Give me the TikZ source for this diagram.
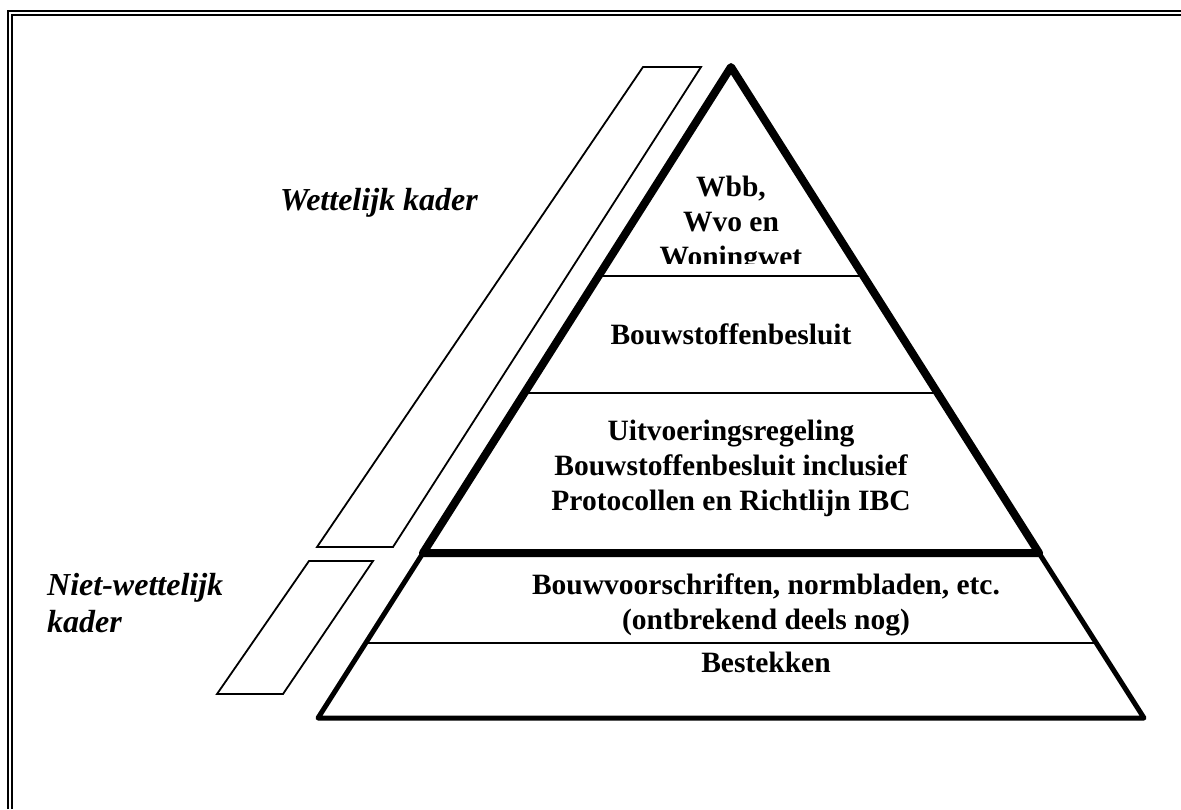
\documentclass[tikz,border=0pt]{standalone}
\usepackage{fontspec}
\setmainfont{Liberation Serif}
\usetikzlibrary{calc}

\begin{document}
\begin{tikzpicture}[x=1pt,y=-1pt,
		laag/.style={font=\fontsize{29.5}{35}\selectfont\bfseries,align=center,inner sep=0pt},
		kader/.style={font=\fontsize{32}{37}\selectfont\bfseries\itshape,inner sep=0pt}]
	\useasboundingbox (0,0) rectangle (1181,809);

	% dubbele rand
	\draw[line width=2.5] (8,809)--(8,11)--(1181,11);
	\draw[line width=2.5] (12,809)--(12,15)--(1181,15);

	\coordinate (top) at (731,67);
	\coordinate (links) at (423,553);
	\coordinate (rechts) at (1039,553);
	\coordinate (onderlinks) at (318,718);
	\coordinate (onderrechts) at (1144,718);

	% scheidslijnen
	\draw[line width=2] ($(top)!0.43!(links)$)--($(top)!0.43!(rechts)$);
	\draw[line width=2] ($(top)!0.671!(links)$)--($(top)!0.671!(rechts)$);
	\draw[line width=2] ($(links)!0.545!(onderlinks)$)--($(rechts)!0.545!(onderrechts)$);

	% piramide
	\draw[line width=5,line join=round] (links)--(onderlinks)--(onderrechts)--(rechts);
	\draw[line width=8,line join=round] (top)--(rechts)--(links)--cycle;

	% balken
	\draw[line width=1.8] (317,547)--(393,547)--(701,67)--(643,67)--cycle;
	\draw[line width=1.8] (217,694)--(283,694)--(373,561)--(309,561)--cycle;

	\begin{scope}
		\clip (0,0) rectangle (1181,263);
		\node[laag] (wetten) at (731,225) {Wbb,\\Wvo en\\Woningwet};
	\end{scope}
	\node[laag,anchor=base] (besluit) at (731,344) {Bouwstoffenbesluit};
	\node[laag] (regeling) at (731,468) {Uitvoeringsregeling\\Bouwstoffenbesluit inclusief\\Protocollen en Richtlijn IBC};
	\node[laag] (voorschriften) at (766,605) {Bouwvoorschriften, normbladen, etc.\\(ontbrekend deels nog)};
	\node[laag,anchor=base] (bestekken) at (766,672) {Bestekken};

	\node[kader,anchor=base] (wettelijk) at (379,210) {Wettelijk kader};
	\node[kader,anchor=north west,align=left] (nietwettelijk) at (47,573) {Niet-wettelijk\\kader};
\end{tikzpicture}
\end{document}
